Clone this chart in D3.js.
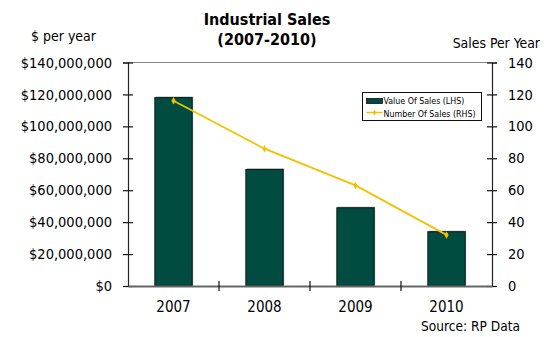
<!DOCTYPE html>
<html>
<head>
<meta charset="utf-8">
<script src="https://cdn.jsdelivr.net/npm/d3@7"></script>
<style>
  html, body { margin: 0; padding: 0; background: #fff; }
  svg { display: block; font-family: "DejaVu Sans Condensed", "DejaVu Sans", sans-serif; }
</style>
</head>
<body>
<svg id="chart" width="549" height="337"></svg>
<script>
// Industrial sales, 2007-2010
const years = ["2007", "2008", "2009", "2010"];
const salesValue = [118000000, 73000000, 49000000, 34000000];   // $ per year (LHS)
const salesCount = [116, 86, 63, 32];                          // sales per year (RHS)
const leftTicks = [0, 20000000, 40000000, 60000000, 80000000, 100000000, 120000000, 140000000];
const rightTicks = [0, 20, 40, 60, 80, 100, 120, 140];
const seriesNames = ["Value Of Sales (LHS)", "Number Of Sales (RHS)"];

const barColor = "#004C40";
const lineColor = "#F2C200";
const FONT = "DejaVu Sans Condensed, DejaVu Sans, sans-serif";

const svg = d3.select("#chart");
const m = { left: 128, right: 492, top: 62.5, bottom: 286 };

const x = d3.scaleBand().domain(years).range([m.left, m.right]).paddingInner(0.59).paddingOuter(0.295);
const xBand = d3.scaleBand().domain(years).range([m.left, m.right]);
const yL = d3.scaleLinear().domain([0, 140000000]).range([m.bottom, m.top]);
const yR = d3.scaleLinear().domain([0, 140]).range([m.bottom, m.top]);

// top border of plot area
svg.append("line")
  .attr("x1", m.left).attr("x2", m.right)
  .attr("y1", m.top).attr("y2", m.top)
  .attr("stroke", "#888").attr("stroke-width", 1);

// bars with a light shadow edge
const bars = svg.append("g");
bars.selectAll("rect.shadow").data(years).join("rect")
  .attr("class", "shadow")
  .attr("x", d => x(d) + 1)
  .attr("y", (d, i) => yL(salesValue[i]) - 1)
  .attr("width", x.bandwidth())
  .attr("height", (d, i) => m.bottom - yL(salesValue[i]))
  .attr("fill", "#9a9a9a");
bars.selectAll("rect.bar").data(years).join("rect")
  .attr("class", "bar")
  .attr("x", d => x(d))
  .attr("y", (d, i) => yL(salesValue[i]))
  .attr("width", x.bandwidth())
  .attr("height", (d, i) => m.bottom - yL(salesValue[i]))
  .attr("fill", barColor)
  .attr("stroke", "#0a1a16").attr("stroke-width", 1);

// axes
const fmtDollar = d => "$" + d3.format(",")(d);
const axL = svg.append("g").attr("transform", `translate(${m.left},0)`)
  .call(d3.axisLeft(yL).tickValues(leftTicks).tickFormat(fmtDollar).tickSize(5).tickPadding(11));
const axR = svg.append("g").attr("transform", `translate(${m.right},0)`)
  .call(d3.axisRight(yR).tickValues(rightTicks).tickSize(5).tickPadding(11));
const axB = svg.append("g").attr("transform", `translate(0,${m.bottom})`)
  .call(d3.axisBottom(xBand).tickSize(0).tickPadding(15));

[axL, axR].forEach(g => {
  g.select(".domain").attr("stroke", "#222").attr("stroke-width", 1.2);
  g.selectAll(".tick line").attr("stroke", "#111").attr("stroke-width", 1.2);
  g.selectAll(".tick text").attr("font-size", 14.5).attr("fill", "#000")
    .attr("font-family", FONT);
});
axL.selectAll(".tick line").attr("x1", 5).attr("x2", -5);
axR.selectAll(".tick line").attr("x1", -5).attr("x2", 5);
axB.select(".domain").attr("stroke", "#666").attr("stroke-width", 2);
axB.selectAll(".tick text").attr("font-size", 15).attr("fill", "#000")
  .attr("font-family", FONT);

// category dividers
svg.append("g").selectAll("line").data(years.slice(1)).join("line")
  .attr("x1", d => xBand(d)).attr("x2", d => xBand(d))
  .attr("y1", m.bottom - 5).attr("y2", m.bottom + 5)
  .attr("stroke", "#111").attr("stroke-width", 1.2);

// number of sales line
const line = d3.line()
  .x((d, i) => xBand(years[i]) + xBand.bandwidth() / 2)
  .y(d => yR(d));
svg.append("path").datum(salesCount)
  .attr("d", line).attr("fill", "none")
  .attr("stroke", lineColor).attr("stroke-width", 1.8);
svg.append("g").selectAll("path").data(salesCount).join("path")
  .attr("d", d3.symbol(d3.symbolDiamond, 16))
  .attr("transform", (d, i) => `translate(${xBand(years[i]) + xBand.bandwidth() / 2},${yR(d)})`)
  .attr("fill", lineColor);

// legend
const lg = svg.append("g").attr("transform", "translate(362.5,92.5)");
lg.append("rect").attr("width", 119).attr("height", 28)
  .attr("fill", "#fff").attr("stroke", "#111").attr("stroke-width", 1);
lg.append("rect").attr("x", 4).attr("y", 6).attr("width", 16).attr("height", 5)
  .attr("fill", barColor).attr("stroke", "#111").attr("stroke-width", 0.8);
lg.append("line").attr("x1", 4).attr("x2", 20).attr("y1", 20).attr("y2", 20)
  .attr("stroke", lineColor).attr("stroke-width", 1.5);
lg.append("path").attr("d", d3.symbol(d3.symbolDiamond, 10))
  .attr("transform", "translate(12,20)").attr("fill", lineColor);
lg.selectAll("text").data(seriesNames).join("text")
  .attr("x", 21).attr("y", (d, i) => 11.5 + i * 13)
  .attr("font-size", 8.8).attr("fill", "#000")
  .text(d => d);

// titles and notes
svg.append("text").attr("x", 267).attr("y", 25).attr("text-anchor", "middle")
  .attr("font-size", 16).attr("font-weight", "bold").text("Industrial Sales");
svg.append("text").attr("x", 267).attr("y", 45).attr("text-anchor", "middle")
  .attr("font-size", 16).attr("font-weight", "bold").text("(2007-2010)");
svg.append("text").attr("x", 63.5).attr("y", 41).attr("text-anchor", "middle")
  .attr("font-size", 14).text("$ per year");
svg.append("text").attr("x", 540).attr("y", 48).attr("text-anchor", "end")
  .attr("font-size", 13.9).text("Sales Per Year");
svg.append("text").attr("x", 520).attr("y", 331).attr("text-anchor", "end")
  .attr("font-size", 13.6).text("Source: RP Data");
</script>
</body>
</html>
